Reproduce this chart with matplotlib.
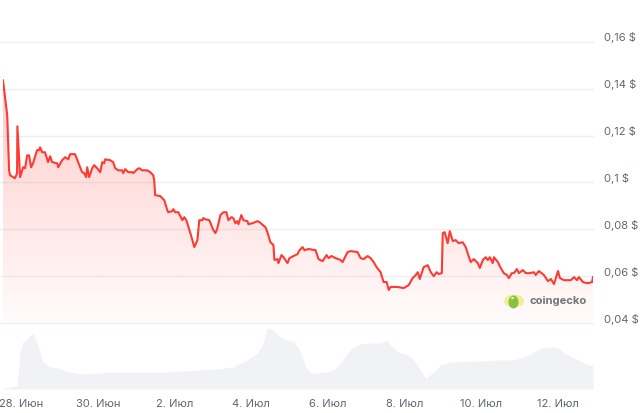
import numpy as np
import matplotlib
matplotlib.use('Agg')
import matplotlib.pyplot as plt
from matplotlib.patches import Circle, Ellipse, PathPatch
from matplotlib.transforms import offset_copy, blended_transform_factory

plt.rcParams['font.family'] = ['Inter', 'DejaVu Sans']

# ---- data (hours since 28 Jun 00:00) ----
price_hours = [-11.3, -8.8, -8.6, -7.5, -6.9, -5.0, -3.8, -2.5, -2.3, -0.6, 1.3, 2.5, 3.8, 5.0, 6.3, 7.5,
               10.0, 11.3, 11.9, 13.2, 15.0, 16.9, 18.2, 19.4, 22.6, 23.2, 25.7, 27.6, 29.5, 30.7, 33.8,
               35.7, 38.2, 39.5, 40.7, 41.4, 42.6, 44.5, 45.7, 47.6, 49.5, 50.8, 52.0, 52.6, 55.8, 57.6,
               58.9, 60.8, 63.3, 63.9, 65.2, 67.0, 69.6, 70.2, 72.7, 73.9, 75.8, 78.9, 80.8, 82.7, 83.3,
               83.9, 87.1, 89.6, 91.5, 92.1, 94.6, 95.2, 96.5, 98.4, 100.9, 102.1, 103.4, 105.9, 108.4,
               110.3, 111.5, 113.4, 114.0, 115.3, 117.8, 120.3, 121.6, 122.8, 124.7, 126.6, 128.5, 129.7,
               131.6, 132.8, 134.1, 135.3, 136.0, 137.8, 139.1, 141.6, 142.2, 144.7, 147.9, 149.1, 152.9,
               154.1, 156.0, 157.9, 158.5, 160.4, 161.0, 162.9, 164.2, 166.7, 167.9, 170.4, 172.9, 174.2,
               176.1, 177.3, 179.8, 184.2, 186.1, 188.6, 191.1, 192.4, 194.2, 196.8, 199.9, 201.1, 204.3,
               206.2, 210.5, 212.4, 214.3, 216.8, 218.7, 220.6, 222.4, 224.9, 226.8, 228.7, 230.0, 231.2,
               233.1, 235.6, 239.4, 242.5, 245.0, 246.9, 248.2, 249.4, 251.9, 254.4, 256.3, 258.2, 260.0,
               261.3, 263.2, 263.8, 265.0, 266.9, 268.2, 270.1, 271.9, 273.8, 276.3, 278.2, 279.4, 281.3,
               283.2, 285.7, 287.0, 288.9, 290.7, 292.0, 293.2, 295.1, 295.8, 298.3, 300.1, 302.0, 303.9,
               305.2, 307.0, 308.3, 310.2, 311.4, 313.9, 315.8, 318.3, 320.8, 322.0, 323.9, 327.1, 329.6,
               331.5, 333.4, 335.9, 337.1, 339.6, 344.0, 345.9, 347.8, 349.0, 351.5, 353.4, 355.3, 357.2,
               357.8]
price_usd = [0.1436, 0.1295, 0.1278, 0.1052, 0.1031, 0.1023, 0.1018, 0.1040, 0.1240, 0.1023, 0.1065,
             0.1061, 0.1116, 0.1116, 0.1065, 0.1082, 0.1138, 0.1138, 0.1150, 0.1129, 0.1129, 0.1087,
             0.1112, 0.1087, 0.1082, 0.1065, 0.1095, 0.1108, 0.1099, 0.1121, 0.1121, 0.1087, 0.1044,
             0.1040, 0.1023, 0.1065, 0.1023, 0.1061, 0.1074, 0.1061, 0.1044, 0.1087, 0.1082, 0.1099,
             0.1095, 0.1087, 0.1061, 0.1052, 0.1052, 0.1040, 0.1057, 0.1044, 0.1044, 0.1040, 0.1057,
             0.1061, 0.1052, 0.1052, 0.1044, 0.1031, 0.1010, 0.0946, 0.0942,
             0.0924, 0.0882, 0.0873, 0.0878, 0.0886, 0.0873, 0.0873, 0.0839, 0.0852, 0.0839, 0.0784,
             0.0724, 0.0754, 0.0839, 0.0839, 0.0848, 0.0843, 0.0839, 0.0797, 0.0784, 0.0805, 0.0861,
             0.0873, 0.0873, 0.0839, 0.0852, 0.0848, 0.0826, 0.0835, 0.0822, 0.0861, 0.0839, 0.0835,
             0.0822, 0.0826, 0.0835, 0.0831, 0.0809, 0.0788, 0.0745, 0.0733, 0.0669, 0.0673, 0.0656,
             0.0690, 0.0681, 0.0656, 0.0677, 0.0686, 0.0694, 0.0711, 0.0724, 0.0711, 0.0716,
             0.0711, 0.0673, 0.0664, 0.0690, 0.0677, 0.0686, 0.0677, 0.0669, 0.0660, 0.0703, 0.0707,
             0.0703, 0.0677, 0.0673, 0.0686, 0.0677, 0.0660, 0.0639, 0.0617, 0.0575, 0.0575, 0.0541,
             0.0554, 0.0554, 0.0554, 0.0549, 0.0562, 0.0592, 0.0605, 0.0617, 0.0588, 0.0639, 0.0647,
             0.0617, 0.0600, 0.0617, 0.0609, 0.0613, 0.0784, 0.0788, 0.0741, 0.0792, 0.0750, 0.0754,
             0.0741,
             0.0745, 0.0724, 0.0698, 0.0660, 0.0673, 0.0656, 0.0635, 0.0669, 0.0681, 0.0669, 0.0681,
             0.0656, 0.0681, 0.0660, 0.0635, 0.0613, 0.0605, 0.0592, 0.0613, 0.0613, 0.0630, 0.0613,
             0.0626, 0.0613, 0.0613, 0.0617, 0.0605, 0.0622, 0.0605, 0.0579, 0.0588, 0.0566, 0.0622,
             0.0592, 0.0583, 0.0583, 0.0596, 0.0583, 0.0596, 0.0575, 0.0571, 0.0571, 0.0575, 0.0596]

vol_hours = [-11.3, -6.9, -2.5, -0.6, 1.3, 3.1, 4.4, 7.5, 9.4, 11.9, 13.8, 18.2, 22.6, 26.3, 30.7, 35.1,
             37.0, 49.5, 60.2, 70.2, 80.8, 91.5, 101.5, 112.2, 122.8, 132.8, 137.2, 141.6, 147.9, 151.0,
             154.1, 157.3, 160.4, 166.7, 170.4, 173.6, 176.1, 178.0, 181.1, 185.5, 191.7, 195.5, 199.9,
             204.3, 208.0, 212.4, 218.7, 224.9, 228.7, 231.2, 235.6, 241.9, 245.7, 248.8, 253.1, 257.5,
             262.5, 268.8, 279.4, 289.5, 300.1, 308.3, 314.6, 320.8, 325.2, 331.5, 335.9, 339.6, 345.9,
             352.1, 357.8]
vol_rel = [1, 2, 3, 37, 47, 48, 52, 56, 49, 37, 27, 22, 21, 19, 17, 16, 15, 16, 17, 17, 17, 17, 18, 19,
           20, 22, 26, 29, 36, 44, 61, 59, 54, 49, 47, 41, 32, 22, 16, 16, 17, 19, 26, 36, 42, 45, 46, 46,
           49, 44, 37, 34, 29, 21, 11, 16, 24, 27, 28, 28, 29, 29, 32, 37, 41, 42, 41, 36, 31, 26, 23]

y_ticks = [0.04, 0.06, 0.08, 0.10, 0.12, 0.14, 0.16]
y_tick_labels = ['0,04 $', '0,06 $', '0,08 $', '0,1 $', '0,12 $', '0,14 $', '0,16 $']
x_tick_hours = [0, 48, 96, 144, 192, 240, 288, 336]
x_tick_labels = ['28. Июн', '30. Июн', '2. Июл', '4. Июл', '6. Июл', '8. Июл', '10. Июл', '12. Июл']

# ---- layout ----
W, H = 640, 413
fig = plt.figure(figsize=(W / 100, H / 100), dpi=100)
fig.patch.set_facecolor('white')


def rect(x0, y0, x1, y1):
    return [x0 / W, 1 - y1 / H, (x1 - x0) / W, (y1 - y0) / H]


LINE = '#ff3a33'
TXT = '#5f6673'
GRID = '#eeeff1'

k = 0.02 / 47.0  # price per pixel
ax = fig.add_axes(rect(3, 30, 593, 330))
ax.set_facecolor('none')
for s in ax.spines.values():
    s.set_visible(False)

xmin, xmax = price_hours[0], price_hours[-1]

for v in y_ticks:
    ax.axhline(v, xmin=-3 / 590, xmax=1, color=GRID, lw=1, zorder=0, clip_on=False)

# gradient fill under line
poly = ax.fill_between(price_hours, price_usd, 0.04, color='none', lw=0)
patch = PathPatch(poly.get_paths()[0], transform=ax.transData, facecolor='none', edgecolor='none')
ax.add_patch(patch)
n = 256
alpha = np.linspace(0.02, 0.26, n)
grad = np.zeros((n, 1, 4))
grad[:, 0, 0] = 1.0
grad[:, 0, 1] = 0.23
grad[:, 0, 2] = 0.2
grad[:, 0, 3] = alpha
img = ax.imshow(grad, extent=[xmin, xmax, 0.04, max(price_usd)], aspect='auto', origin='lower',
                zorder=1, interpolation='bilinear')
img.set_clip_path(patch)

ax.plot(price_hours, price_usd, color=LINE, lw=1.5, zorder=3, solid_joinstyle='round')

ax.set_xlim(xmin, xmax)
ax.set_ylim(0.04 - 7 * k, 0.16 + 12 * k)
ax.set_xticks([])
ax.set_yticks([])

tr = offset_copy(blended_transform_factory(ax.transAxes, ax.transData), fig=fig, x=11, y=4, units='dots')
for v, lab in zip(y_ticks, y_tick_labels):
    ax.text(1.0, v, lab, transform=tr, ha='left', va='center', fontsize=8, color=TXT)

# volume
ax2 = fig.add_axes(rect(3, 323, 593, 389))
ax2.set_facecolor('none')
for s in ax2.spines.values():
    s.set_visible(False)
ax2.fill_between(vol_hours, vol_rel, 0, color='#f1f2f6', lw=0)
ax2.set_xlim(xmin, xmax)
ax2.set_ylim(0, 66)
ax2.set_yticks([])
ax2.set_xticks(x_tick_hours)
ax2.set_xticklabels(x_tick_labels)
ax2.tick_params(axis='x', length=0, pad=7, labelsize=8, labelcolor=TXT)

# coingecko watermark
cx, cy = 514 / W, 1 - 301 / H
fig.patches.append(Circle((cx, cy), 10 / W, transform=fig.transFigure, facecolor='#f5ec93',
                          edgecolor='none', zorder=5))
fig.patches.append(Ellipse((cx - 0.5 / W, cy - 1.0 / H), 10 / W, 13 / H, transform=fig.transFigure,
                           facecolor='#86c440', edgecolor='none', zorder=6))
fig.patches.append(Circle((cx - 1.5 / W, cy + 3.0 / H), 1.4 / W, transform=fig.transFigure,
                          facecolor='white', edgecolor='none', zorder=7))
fig.text(529 / W, cy, 'coingecko', fontsize=8, fontweight='bold', color='#707378', ha='left',
         va='center')

fig.savefig('out.png', dpi=100)
